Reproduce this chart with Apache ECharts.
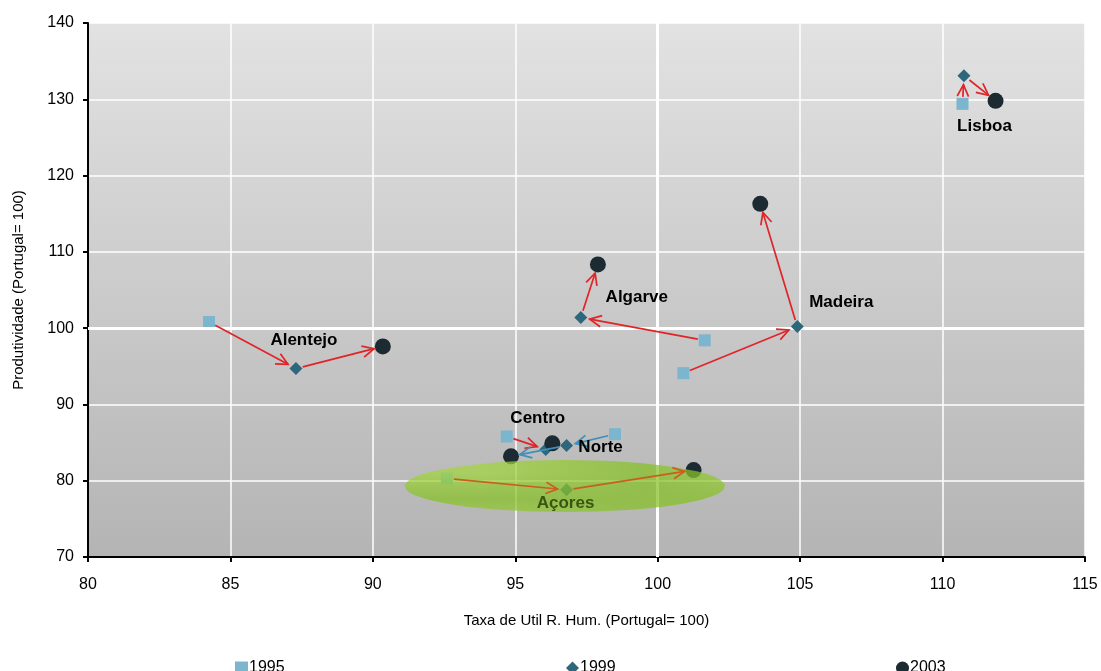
<!DOCTYPE html>
<html>
<head>
<meta charset="utf-8">
<script src="https://cdn.jsdelivr.net/npm/echarts@6/dist/echarts.min.js"></script>
<style>
html,body{margin:0;padding:0;background:#fff;}
#chart{width:1101px;height:671px;}
</style>
</head>
<body>
<div id="chart"></div>
<script>
// ---- data ----
const regions = ['Alentejo', 'Algarve', 'Madeira', 'Lisboa', 'Centro', 'Norte', 'Açores'];
const x1995 = [84.25, 101.65, 100.9, 110.7, 94.7, 98.5, 92.6];
const y1995 = [100.8, 98.4, 94.1, 129.4, 85.8, 86.1, 80.3];
const x1999 = [87.3, 97.3, 104.9, 110.75, 96.07, 96.8, 96.8];
const y1999 = [94.7, 101.4, 100.2, 133.1, 84.1, 84.6, 78.8];
const x2003 = [90.35, 97.9, 103.6, 111.86, 96.3, 94.85, 101.26];
const y2003 = [97.6, 108.35, 116.3, 129.8, 84.9, 83.2, 81.4];
const yearNames = ['1995', '1999', '2003'];
const highlightRegion = 'Açores';
const highlightCenter = [96.74, 79.3];

// ---- styles ----
const FONT = 'Liberation Sans, Arial, sans-serif';
const arrowColor = {
  'Alentejo': '#e02428', 'Algarve': '#e02428', 'Madeira': '#e02428', 'Lisboa': '#e02428',
  'Centro': '#e02428', 'Norte': '#3f8fb8', 'Açores': '#c8601c'
};
// label anchor: which year's point, and pixel offset from it
const labelAnchor = {
  'Alentejo': [1, 8, -28], 'Algarve': [1, 56, -20], 'Madeira': [1, 44, -24], 'Lisboa': [0, 22, 22],
  'Centro': [0, 31, -18], 'Norte': [1, 34, 2], 'Açores': [1, -1, 13]
};

const pts = (xs, ys) => xs.map((x, i) => [x, ys[i]]);
const p95 = pts(x1995, y1995), p99 = pts(x1999, y1999), p03 = pts(x2003, y2003);
const byYear = [p95, p99, p03];
const arrows = [];
regions.forEach((r, i) => {
  arrows.push({ value: [p95[i][0], p95[i][1], p99[i][0], p99[i][1]], region: r });
  arrows.push({ value: [p99[i][0], p99[i][1], p03[i][0], p03[i][1]], region: r });
});

// pattern for highlight ellipse
const tile = document.createElement('canvas');
tile.width = 5; tile.height = 5;
const tctx = tile.getContext('2d');
tctx.fillStyle = 'rgb(162,212,62)';
tctx.fillRect(0, 0, 5, 5);
tctx.fillStyle = 'rgb(132,192,34)';
tctx.fillRect(0, 0, 5, 1);
tctx.fillRect(0, 1, 1, 4);

const chart = echarts.init(document.getElementById('chart'), null, { renderer: 'canvas' });

const labelData = regions.map((r, i) => {
  const a = labelAnchor[r];
  return {
    name: r, value: byYear[a[0]][i],
    label: { offset: [a[1], a[2]], color: r === highlightRegion ? '#3a5512' : '#000' }
  };
});

const option = {
  animation: false,
  textStyle: { fontFamily: FONT },
  grid: {
    left: 88, right: 16, top: 23, bottom: 114,
    show: true, borderWidth: 0,
    backgroundColor: {
      type: 'linear', x: 0, y: 0, x2: 0, y2: 1,
      colorStops: [{ offset: 0, color: '#e2e2e2' }, { offset: 1, color: '#b4b4b4' }]
    }
  },
  legend: [
    { data: [{ name: '1995', icon: 'rect' }], left: 230, top: 655 },
    { data: [{ name: '1999', icon: 'diamond' }], left: 561, top: 655 },
    { data: [{ name: '2003', icon: 'circle' }], left: 891, top: 655 }
  ].map(l => Object.assign(l, {
    itemWidth: 13, itemHeight: 13, itemGap: 2,
    textStyle: { fontSize: 16, color: '#000', fontFamily: FONT, padding: [0, 0, 0, -4] }
  })),
  xAxis: {
    type: 'value', min: 80, max: 115, interval: 5,
    name: 'Taxa de Util R. Hum. (Portugal= 100)', nameLocation: 'middle', nameGap: 56,
    nameTextStyle: { fontSize: 15, color: '#000', fontFamily: FONT },
    axisLine: { show: true, onZero: false, lineStyle: { color: '#000', width: 2 } },
    axisTick: { show: true, length: 5, lineStyle: { color: '#000', width: 2 } },
    axisLabel: { fontSize: 16, color: '#000', margin: 20, fontFamily: FONT },
    splitLine: { show: true, lineStyle: { color: '#ffffff', width: 1.5 } }
  },
  yAxis: {
    type: 'value', min: 70, max: 140, interval: 10,
    name: 'Produtividade (Portugal= 100)', nameLocation: 'middle', nameGap: 62,
    nameTextStyle: { fontSize: 15, color: '#000', fontFamily: FONT },
    axisLine: { show: true, onZero: false, lineStyle: { color: '#000', width: 2 } },
    axisTick: { show: true, length: 5, lineStyle: { color: '#000', width: 2 } },
    axisLabel: { fontSize: 16, color: '#000', margin: 14, fontFamily: FONT },
    splitLine: { show: true, lineStyle: { color: '#ffffff', width: 1.5 } }
  },
  series: [
    {
      type: 'scatter', name: 'ref100', data: [], silent: true, z: 1,
      markLine: {
        silent: true, symbol: 'none', label: { show: false },
        lineStyle: { color: '#ffffff', width: 3, type: 'solid', opacity: 1 },
        data: [{ xAxis: 100 }, { yAxis: 100 }]
      }
    },
    {
      type: 'scatter', name: '1995', data: p95, symbol: 'rect', symbolSize: 12, z: 4,
      itemStyle: { color: '#7cb5ce', opacity: 1 }
    },
    {
      type: 'scatter', name: '1999', data: p99, symbol: 'diamond', symbolSize: 13, z: 5,
      itemStyle: { color: '#2e677c', opacity: 1 }
    },
    {
      type: 'scatter', name: '2003', data: p03, symbol: 'circle', symbolSize: 16, z: 6,
      itemStyle: { color: '#1c2a32', opacity: 1 }
    },
    {
      type: 'scatter', name: 'highlight', data: [highlightCenter], symbol: 'circle',
      symbolSize: [320, 52], z: 7, silent: true,
      itemStyle: { color: { image: tile, repeat: 'repeat' }, opacity: 0.72 }
    },
    {
      type: 'custom', name: 'arrows', z: 8, silent: true,
      encode: { x: [0, 2], y: [1, 3] },
      data: arrows,
      renderItem: function (params, api) {
        const a = api.coord([api.value(0), api.value(1)]);
        const b = api.coord([api.value(2), api.value(3)]);
        const dx = b[0] - a[0], dy = b[1] - a[1];
        const len = Math.sqrt(dx * dx + dy * dy);
        if (len < 18) return null;
        const ux = dx / len, uy = dy / len;
        const s = [a[0] + ux * 7, a[1] + uy * 7];
        const e = [b[0] - ux * 9, b[1] - uy * 9];
        const hl = 13, ang = 0.45;
        const cos = Math.cos(ang), sin = Math.sin(ang);
        const h1 = [e[0] - hl * (ux * cos - uy * sin), e[1] - hl * (uy * cos + ux * sin)];
        const h2 = [e[0] - hl * (ux * cos + uy * sin), e[1] - hl * (uy * cos - ux * sin)];
        const col = arrowColor[arrows[params.dataIndex].region];
        return {
          type: 'group',
          children: [
            { type: 'line', shape: { x1: s[0], y1: s[1], x2: e[0], y2: e[1] }, style: { stroke: col, lineWidth: 1.7 } },
            { type: 'polyline', shape: { points: [h1, e, h2] }, style: { stroke: col, lineWidth: 1.7, fill: null } }
          ]
        };
      }
    },
    {
      type: 'scatter', name: 'labels', data: labelData, symbolSize: 0, z: 9, silent: true,
      itemStyle: { color: 'rgba(0,0,0,0)', opacity: 1 },
      label: {
        show: true, position: 'inside', formatter: '{b}',
        fontSize: 17, fontWeight: 'bold', color: '#000', fontFamily: FONT,
        textBorderWidth: 0
      }
    }
  ]
};
chart.setOption(option);
</script>
</body>
</html>
